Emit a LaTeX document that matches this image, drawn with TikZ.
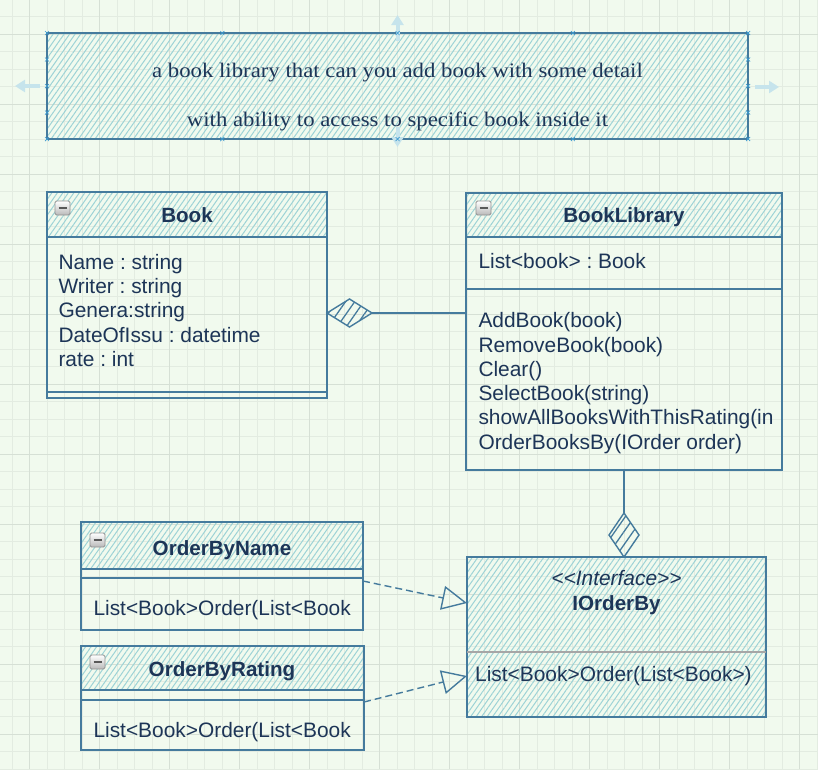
\documentclass[tikz,border=0pt]{standalone}
\usepackage{fontspec}
\setmainfont{Liberation Sans}
\newfontfamily\umlfont{Liberation Sans}
\newfontfamily\notefont{Liberation Serif}[FakeStretch=1.1]
\usetikzlibrary{arrows.meta,patterns.meta,shapes.geometric}
\frenchspacing
\definecolor{paper}{HTML}{F1FAEE}
\definecolor{hatchcol}{HTML}{9DD3D6}
\definecolor{umlblue}{HTML}{457B9D}
\definecolor{umlink}{HTML}{1D3557}
\definecolor{gridminor}{HTML}{E3ECE1}
\definecolor{gridmajor}{HTML}{D6E0D5}
\definecolor{hintblue}{HTML}{C6E4EC}
\definecolor{pointblue}{HTML}{3B9AD0}
\tikzset{
	hatched/.style={pattern={Lines[angle=55,distance=4.5pt,line width=1pt]}, pattern color=hatchcol},
	classbox/.style={draw=umlblue, line width=1.6pt, inner sep=0pt, outer sep=0pt},
	rule/.style={draw=umlblue, line width=1.6pt},
	aggdiamond/.style={diamond, draw=umlblue, line width=1.4pt, inner sep=0pt, outer sep=0pt, pattern={Lines[angle=55,distance=7.5pt,line width=1.3pt]}, pattern color=umlblue},
	link/.style={draw=umlblue, line width=1.4pt},
	realize/.style={draw=umlblue, line width=1.4pt, dash pattern=on 7pt off 4pt, -{Triangle[open, length=25pt, width=24pt]}},
	member/.style={anchor=base west, inner sep=0pt, text=umlink, font=\umlfont\fontsize{20.9}{24.3}\selectfont},
	classtitle/.style={anchor=base, inner sep=0pt, text=umlink, font=\umlfont\fontsize{20.6}{24}\selectfont\bfseries},
	notetext/.style={anchor=base, inner sep=0pt, text=umlink, font=\notefont\fontsize{20.7}{24}\selectfont},
	hint/.style={draw=hintblue, line width=4pt, -{Triangle[length=10pt, width=12pt]}},
	connpoint/.style={draw=pointblue, line width=0.7pt},
}
\def\minusicon(#1,#2){\draw[line width=0.8pt, draw=gray!85, top color=white, bottom color=gray!55, rounded corners=1.5pt] (#1,#2) rectangle ++(15,14); \draw[line width=2pt, draw=black!65] (#1+3.5,#2+7) -- (#1+11.5,#2+7);}

\begin{document}
\begin{tikzpicture}[x=1pt, y=-1pt]
		%%%%% START %%%%%
		\useasboundingbox (0,0) rectangle (818,769);
		\fill[paper] (0,0) rectangle (818,769);
		
		\foreach \gx in {11.8,29.3,...,818} \draw[gridminor, line width=0.6pt] (\gx,0) -- (\gx,769);
		\foreach \gy in {-1,16.5,...,769} \draw[gridminor, line width=0.6pt] (0,\gy) -- (818,\gy);
		\foreach \gx in {29.3,99.3,...,818} \draw[gridmajor, line width=0.8pt] (\gx,0) -- (\gx,769);
		\foreach \gy in {34,104,...,769} \draw[gridmajor, line width=0.8pt] (0,\gy) -- (818,\gy);
		
		%% note
		\fill[hatched] (47,33) rectangle (748,139);
		\node[classbox, minimum width=701pt, minimum height=106pt] (note) at (397.5,86) {};
		\node[notetext] (noteA) at (397.5,77.7) {a book library that can you add book with some detail};
		\node[notetext] (noteB) at (397.5,126.7) {with ability to access to specific book inside it};
		
		\draw[hint] ([yshift=-8pt]note.north) -- ++(0,-26);
		\draw[hint] ([yshift=12pt]note.south) -- ++(0,20);
		\draw[hint] ([xshift=-7pt]note.west) -- ++(-25,0);
		\draw[hint] ([xshift=7pt,yshift=-1pt]note.east) -- ++(24,0);
		
		\foreach \px in {47,222.25,397.5,572.75,748} {
			\draw[connpoint] (\px-2,31) -- (\px+2,35) (\px-2,35) -- (\px+2,31);
			\draw[connpoint] (\px-2,137) -- (\px+2,141) (\px-2,141) -- (\px+2,137);
		}
		\foreach \py in {59.5,86,112.5} {
			\draw[connpoint] (45,\py-2) -- (49,\py+2) (45,\py+2) -- (49,\py-2);
			\draw[connpoint] (746,\py-2) -- (750,\py+2) (746,\py+2) -- (750,\py-2);
		}
		
		%% Book
		\fill[hatched] (47,192) rectangle (327,237);
		\node[classbox, minimum width=280pt, minimum height=206pt] (book) at (187,295) {};
		\draw[rule] (47,237) -- (327,237);
		\draw[rule] (47,392) -- (327,392);
		\minusicon(55,201)
		\node[classtitle] (bookT) at (187,222.7) {Book};
		\node[member] at (58.3,269.3) {Name : string};
		\node[member] at (58.3,293.6) {Writer : string};
		\node[member] at (58.3,317.9) {Genera:string};
		\node[member] at (58.3,342.2) {DateOfIssu : datetime};
		\node[member] at (58.3,366.5) {rate : int};
		
		%% BookLibrary
		\fill[hatched] (466,193) rectangle (782,237);
		\node[classbox, minimum width=316pt, minimum height=277pt] (library) at (624,331.5) {};
		\draw[rule] (466,237) -- (782,237);
		\draw[rule] (466,289) -- (782,289);
		\minusicon(476,201)
		\node[classtitle] (libraryT) at (624,222.7) {BookLibrary};
		\node[member] at (478.3,268.3) {List<book> : Book};
		\node[member] at (478.3,327.7) {AddBook(book)};
		\node[member] at (478.3,352) {RemoveBook(book)};
		\node[member] at (478.3,376.3) {Clear()};
		\node[member] at (478.3,400.6) {SelectBook(string)};
		\node[member] at (478.3,424.9) {showAllBooksWithThisRating(in};
		\node[member] at (478.3,449.2) {OrderBooksBy(IOrder order)};
		
		%% IOrderBy
		\fill[hatched] (467,557) rectangle (766,717);
		\node[classbox, minimum width=299pt, minimum height=160pt] (iorder) at (616.5,637) {};
		\draw[gray!70, line width=1.2pt] (467,652) -- (766,652);
		\node[classtitle, font=\umlfont\fontsize{20.9}{24}\selectfont\itshape] (iorderS) at (616.5,585) {<<Interface>>};
		\node[classtitle] (iorderT) at (616.5,610) {IOrderBy};
		\node[member] at (475,681.7) {List<Book>Order(List<Book>)};
		
		%% OrderByName
		\fill[hatched] (81,522) rectangle (363,569);
		\node[classbox, minimum width=282pt, minimum height=108pt] (byname) at (222,576) {};
		\draw[rule] (81,569) -- (363,569);
		\draw[rule] (81,578) -- (363,578);
		\minusicon(90,533)
		\node[classtitle] (bynameT) at (222,555) {OrderByName};
		\node[member] at (93.3,615) {List<Book>Order(List<Book};
		
		%% OrderByRating
		\fill[hatched] (81,646) rectangle (364,690);
		\node[classbox, minimum width=283pt, minimum height=104pt] (byrating) at (222.5,698) {};
		\draw[rule] (81,690) -- (364,690);
		\draw[rule] (81,700) -- (364,700);
		\minusicon(90,655)
		\node[classtitle] (byratingT) at (222,676.7) {OrderByRating};
		\node[member] at (93.3,737.7) {List<Book>Order(List<Book};
		
		%% connectors
		\node[aggdiamond, minimum width=45pt, minimum height=28pt, anchor=west] (bookdia) at (book.east |- 0,313) {};
		\draw[link] (bookdia.east) -- (bookdia.east -| library.west);
		
		\node[aggdiamond, minimum width=30pt, minimum height=44pt, anchor=south] (libdia) at (library.south |- iorder.north) {};
		\draw[link] (library.south) -- (libdia.north);
		
		\draw[realize] (byname.east |- 0,581) -- (iorder.west |- 0,603);
		\draw[realize] (byrating.east |- 0,702) -- (iorder.west |- 0,676);
		
		%%%%% END %%%%%
\end{tikzpicture}
\end{document}
